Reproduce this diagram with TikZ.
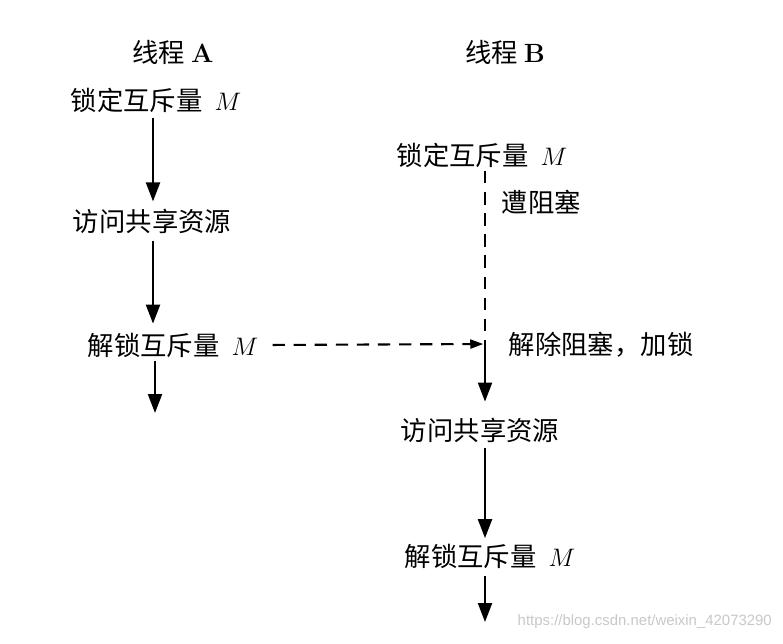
\documentclass[tikz,border=0pt]{standalone}
\usepackage{fontspec}
\newfontfamily\cjk{Noto Sans CJK SC}
\newfontfamily\wmfont{Liberation Sans}
\usetikzlibrary{arrows.meta}
\definecolor{MarkGray}{HTML}{C8C8C8}

\begin{document}
\begin{tikzpicture}[x=0.02cm,y=-0.02cm,>={Triangle[length=3.8mm,width=2.8mm]}]
  \tikzstyle{txt}=[inner sep=2pt,font=\fontsize{15}{17}\selectfont\cjk]
  \tikzstyle{flow}=[->,line width=1.2pt]
  \tikzstyle{wait}=[line width=1.2pt,dash pattern=on 7pt off 5pt]
  \useasboundingbox (0,0) rectangle (783,643);
  \coordinate (ca) at (153,0);
  \coordinate (cb) at (485,0);
  % thread A
  \node[txt] (ta) at (173,52) {线程 {\rmfamily\bfseries A}};
  \node[txt] (a1) at (156,100) {锁定互斥量\hspace{0.45em}$M$};
  \node[txt] (a2) at (152,221) {访问共享资源};
  \node[txt] (a3) at (173,345) {解锁互斥量\hspace{0.45em}$M$};
  \coordinate (a4) at (155,413);
  % thread B
  \node[txt] (tb) at (505,52) {线程 {\rmfamily\bfseries B}};
  \node[txt] (b1) at (482,155) {锁定互斥量\hspace{0.45em}$M$};
  \node[txt,anchor=west] (blk) at (498,202) {遭阻塞};
  \coordinate (j) at (485,344);
  \node[txt,anchor=west] (ulk) at (505,345) {解除阻塞，加锁};
  \node[txt] (b2) at (480,430) {访问共享资源};
  \node[txt] (b3) at (490,556) {解锁互斥量\hspace{0.45em}$M$};
  \coordinate (b4) at (485,622);
  \node[font=\wmfont\fontsize{8.5}{10}\selectfont,text=MarkGray,anchor=east] (mark) at (778,622) {https://blog.csdn.net/weixin\_42073290};
  % connectors
  \draw[flow,shorten <=1pt,shorten >=2pt] (a1.south -| ca) -- (a2.north -| ca);
  \draw[flow,shorten <=2pt,shorten >=3pt] (a2.south -| ca) -- (a3.north -| ca);
  \draw[flow] (a3.south -| a4) -- (a4);
  \draw[wait] (b1.south -| cb) -- (j);
  \draw[->,wait,shorten <=6pt,shorten >=1pt,>={Triangle[length=2.6mm,width=1.8mm]}] (a3.east) -- (j);
  \draw[flow,shorten >=7pt] (j) -- (b2.north -| cb);
  \draw[flow,shorten <=1pt,shorten >=1pt] (b2.south -| cb) -- (b3.north -| cb);
  \draw[flow,shorten <=2pt] (b3.south -| cb) -- (b4);
\end{tikzpicture}
\end{document}
